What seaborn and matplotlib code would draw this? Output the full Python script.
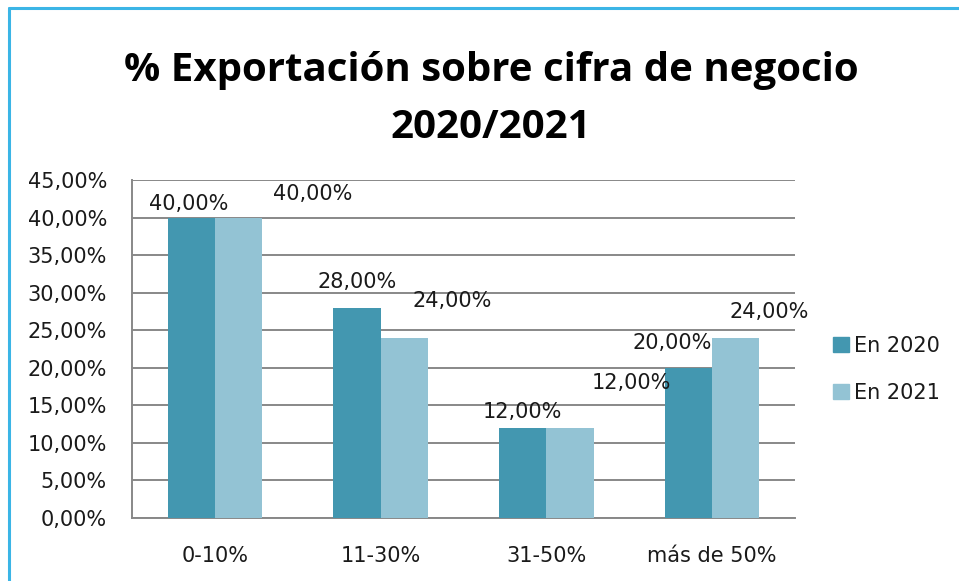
import matplotlib.pyplot as plt
import matplotlib.lines as mlines
import pandas as pd
import seaborn as sns

categories = ["0-10%", "11-30%", "31-50%", "más de 50%"]
series = ["En 2020", "En 2021"]
values_2020 = [40, 28, 12, 20]
values_2021 = [40, 24, 12, 24]
yticks = [0, 5, 10, 15, 20, 25, 30, 35, 40, 45]

# label nudges (pixels) to mimic the hand-placed data labels of the original
label_offsets = {
    "En 2020": [(-3, 14), (0, 26), (0, 16), (-16, 25)],
    "En 2021": [(74, 24), (48, 37), (61, 45), (33, 26)],
}

colors = {"En 2020": "#4397b0", "En 2021": "#93c3d4"}

df = pd.DataFrame({
    "categoria": categories * 2,
    "serie": [series[0]] * 4 + [series[1]] * 4,
    "valor": values_2020 + values_2021,
})

sns.set_style("white")
plt.rcParams["font.family"] = ["DejaVu Sans"]

fig = plt.figure(figsize=(9.59, 5.81), dpi=100)
ax = fig.add_axes([132 / 959, 1 - 518 / 581, 663 / 959, 338 / 581])

sns.barplot(data=df, x="categoria", y="valor", hue="serie", palette=colors,
            width=0.57, saturation=1, linewidth=0, ax=ax, legend=False,
            zorder=3)

ax.set_ylim(0, 45)
ax.set_yticks(yticks)
ax.set_yticklabels([f"{v:.2f}".replace(".", ",") + "%" for v in yticks])
ax.yaxis.grid(True, color="#888888", linewidth=1.4, zorder=0)
ax.set_axisbelow(True)
for side in ["top", "right"]:
    ax.spines[side].set_visible(False)
for side in ["left", "bottom"]:
    ax.spines[side].set_color("#888888")
    ax.spines[side].set_linewidth(1.4)
ax.tick_params(axis="both", length=0, labelsize=15, colors="#1a1a1a")
ax.tick_params(axis="x", pad=20)
ax.tick_params(axis="y", pad=18)
ax.set_xlabel("")
ax.set_ylabel("")

for container, name in zip(ax.containers, series):
    for bar, (dx, dy) in zip(container, label_offsets[name]):
        x = bar.get_x() + bar.get_width() / 2
        y = bar.get_height()
        ax.annotate(f"{y:.2f}".replace(".", ",") + "%", (x, y),
                    xytext=(dx, dy), textcoords="offset pixels",
                    ha="center", va="center", fontsize=15, color="#1a1a1a",
                    zorder=5, annotation_clip=False)

handles = [plt.Rectangle((0, 0), 1, 1, color=colors[s]) for s in series]
fig.legend(handles, series, loc="center left", bbox_to_anchor=(0.869, 0.364),
           frameon=False, fontsize=15, handlelength=0.75, handleheight=0.75,
           handletextpad=0.25, labelspacing=1.3, borderaxespad=0,
           borderpad=0, labelcolor="#1a1a1a")

fig.text(0.512, 0.878, "% Exportación sobre cifra de negocio", ha="center",
         va="center", fontsize=29, fontweight="bold", family="Open Sans",
         color="black")
fig.text(0.512, 0.780, "2020/2021", ha="center", va="center", fontsize=29,
         fontweight="bold", family="Open Sans", color="black")

# blue frame of the original screenshot
fig.add_artist(mlines.Line2D([9 / 959, 1], [1 - 8 / 581] * 2,
                             color="#3bb5e6", linewidth=2.2))
fig.add_artist(mlines.Line2D([9 / 959] * 2, [0, 1 - 8 / 581],
                             color="#3bb5e6", linewidth=2.2))

fig.savefig("out.png", dpi=100)
